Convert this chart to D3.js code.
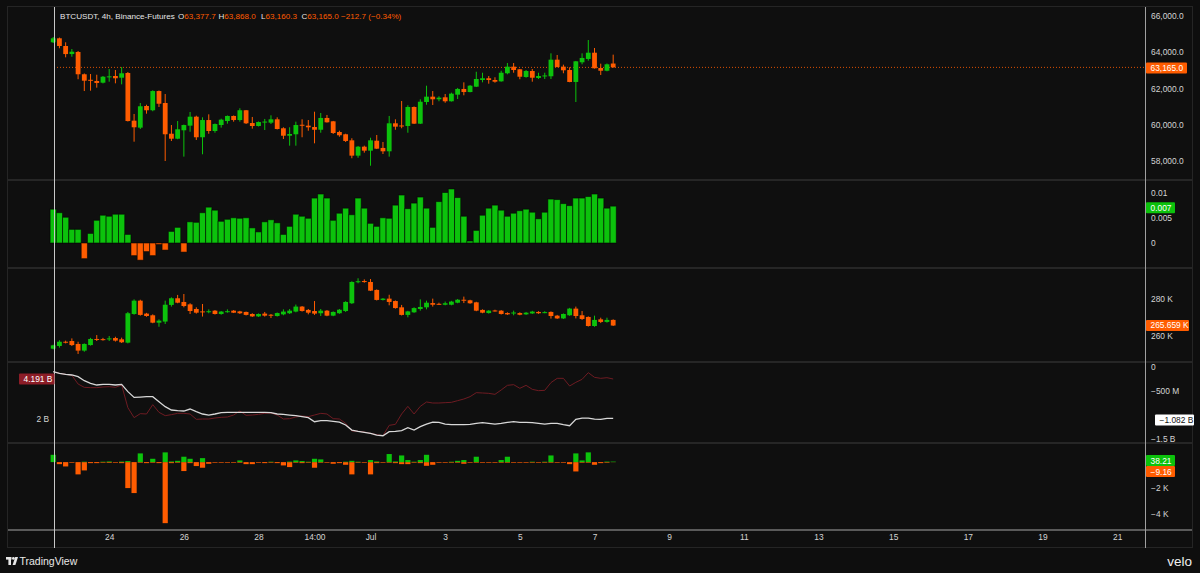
<!DOCTYPE html>
<meta charset="utf-8">
<style>
  body { margin: 0; background: #0e0e0e; }
  svg text { font-family: "Liberation Sans", Arial, sans-serif; }
</style>
<body>
<script src="https://cdn.jsdelivr.net/npm/d3@7/dist/d3.min.js"></script>
<script>
// BTCUSDT 4h candles [open, high, low, close], bar 0 = Jun 22 12:00
var priceCandles = [
  [64550,64840,64510,64770],[64770,64810,64220,64345],[64345,64550,63720,63900],[63900,64180,63755,64030],[64015,64070,62510,62785],
  [62785,62830,61860,62430],[62480,62800,61880,62450],[62415,62760,62045,62305],[62320,62690,62280,62650],[62640,63075,62375,62670],
  [62690,63020,62285,62565],[62595,63185,62230,62840],[62855,62910,60180,60205],[60225,60595,59065,59860],[59840,61200,59765,61020],
  [61035,61105,60610,60800],[60800,61900,60745,61860],[61860,61890,60980,61160],[61200,61695,58000,59475],[59505,59985,59105,59230],
  [59230,60205,59200,59750],[59695,60010,58240,59985],[59950,60705,59615,60445],[60445,60500,59160,59310],[59310,60410,58370,60260],
  [60260,60575,59505,59655],[59655,60070,59560,60040],[59985,60335,59840,60280],[60205,60510,60060,60485],[60485,60510,60170,60260],
  [60260,60910,60170,60800],[60800,60815,60040,60080],[60095,60430,59785,59930],[59930,60180,59905,60150],[60160,60320,59710,60175],
  [60115,60520,60040,60300],[60300,60410,59740,59765],[59805,59860,59215,59395],[59395,59860,58845,59490],[59475,60170,58845,59985],
  [60000,60300,59310,59980],[59950,60260,59670,59860],[59875,60720,58975,59725],[59725,60650,59560,60375],[60375,60540,60120,60135],
  [60190,60210,59490,59545],[59600,59670,59340,59420],[59475,59505,59050,59105],[59140,59255,58150,58295],[58295,58830,58180,58790],
  [58790,58845,58460,58570],[58570,59285,57740,59140],[59120,59435,58660,58680],[58720,59050,58385,58535],[58535,60485,58240,60080],
  [60080,60300,59725,59895],[59960,61310,59805,59940],[59930,61075,59560,60980],[60980,61010,60040,60060],[60060,61405,60040,61270],
  [61255,62155,61105,61550],[61550,61860,61090,61405],[61405,61570,61295,61495],[61515,61695,61215,61295],[61295,61770,61280,61715],
  [61660,62030,61420,61975],[61975,62340,61625,61805],[61805,62190,61790,62155],[62100,62925,62080,62525],[62470,62870,62340,62565],
  [62565,62690,62265,62470],[62470,62620,62320,62375],[62395,62980,62375,62870],[62840,63405,62785,63205],[63205,63405,62870,63020],
  [63060,63080,62510,62650],[62635,63020,62595,62965],[62965,63075,62375,62595],[62580,62870,62525,62690],[62700,62870,62525,62720],
  [62675,63940,62525,63590],[63590,63850,63170,63185],[63205,63315,62840,63005],[63020,63170,62345,62360],[62360,63520,61255,63500],
  [63445,63940,63335,63685],[63630,64675,63535,63975],[63975,64235,63100,63115],[63130,63370,62745,62980],[62980,63380,62950,63335],
  [63377.7,63868.0,63160.3,63165.0]
];

// second pane histogram
var fundValues = [
  0.0067,0.0060,0.0051,0.0027,0.0027,-0.0031,0.0019,0.0045,0.0055,0.0053,
  0.0057,0.0057,0.0017,-0.0025,-0.0034,-0.0017,-0.0025,-0.0003,-0.0014,0.0023,
  0.0031,-0.0018,0.0042,0.0041,0.0060,0.0071,0.0065,0.0043,0.0047,0.0050,
  0.0049,0.0050,0.0030,0.0022,0.0042,0.0046,0.0040,0.0017,0.0033,0.0057,
  0.0053,0.0049,0.0089,0.0097,0.0089,0.0045,0.0059,0.0069,0.0056,0.0089,
  0.0069,0.0039,0.0033,0.0050,0.0049,0.0075,0.0095,0.0068,0.0079,0.0091,
  0.0069,0.0031,0.0082,0.0100,0.0107,0.0090,0.0053,0.0004,0.0025,0.0055,
  0.0069,0.0075,0.0065,0.0053,0.0059,0.0064,0.0067,0.0061,0.0048,0.0061,
  0.0087,0.0086,0.0078,0.0074,0.0089,0.0089,0.0092,0.0097,0.0089,0.0069,
  0.0073
];

// open interest candles (K)
var oiCandles = [
  [253.15,255.3,252.8,254.95],[254.6,257.7,253.7,256.9],[256.9,257.5,256.0,256.5],[257.3,258.7,254.6,255.1],[255.7,256.9,250.3,252.1],
  [252.1,256.0,251.5,255.7],[255.1,259.0,254.8,258.4],[258.4,260.5,257.3,258.2],[258.3,259.0,257.5,258.1],[258.4,260.0,257.3,258.7],
  [258.9,259.6,257.0,257.5],[258.2,259.1,256.2,256.6],[256.4,273.0,256.0,272.3],[271.9,279.8,271.5,279.1],[279.1,279.6,271.0,271.4],
  [272.1,272.5,270.4,270.8],[271.2,271.7,266.9,267.2],[267.2,269.0,265.0,268.3],[267.8,279.1,266.5,276.9],[276.8,280.9,275.9,280.4],
  [280.4,282.2,277.7,278.0],[278.4,282.7,275.5,276.2],[277.1,277.7,271.9,273.5],[274.6,275.5,272.1,272.6],[273.3,277.3,270.5,273.1],
  [273.3,274.4,272.3,273.4],[273.7,274.0,271.6,271.9],[271.9,273.5,271.5,273.2],[273.2,274.4,272.6,273.4],[273.7,274.0,272.4,272.6],
  [273.3,273.6,271.9,272.3],[273.0,273.2,271.1,271.4],[271.9,272.3,270.3,270.6],[270.6,272.2,270.3,271.9],[272.1,273.0,270.5,271.0],
  [271.5,271.9,269.7,271.0],[270.8,272.7,270.5,272.4],[271.7,274.4,271.2,273.2],[272.3,274.6,271.9,273.7],[273.2,277.0,272.8,275.9],
  [275.9,276.2,273.2,273.5],[274.1,274.6,271.7,272.6],[273.5,278.9,271.4,272.1],[272.3,274.6,270.8,273.7],[273.7,274.0,270.7,271.0],
  [271.0,273.3,270.7,273.0],[272.3,274.6,272.0,274.2],[273.5,278.8,273.0,278.4],[277.7,289.6,277.3,289.2],[289.4,291.2,288.5,289.6],
  [289.7,290.6,288.8,289.5],[289.2,290.8,284.3,284.5],[284.9,285.2,279.2,279.5],[279.5,280.5,279.2,280.2],[280.2,282.3,276.6,278.4],
  [278.9,279.2,274.8,275.1],[275.5,276.8,271.1,271.4],[271.4,273.6,270.1,273.3],[272.8,275.5,272.5,275.1],[274.6,279.8,273.7,275.7],
  [275.5,279.1,274.4,278.0],[277.8,280.2,275.9,276.9],[277.4,278.0,276.8,277.3],[276.9,278.6,276.6,277.7],[276.9,279.0,276.6,278.6],
  [278.0,280.0,277.7,279.6],[279.6,281.3,277.8,279.4],[279.3,279.6,277.4,277.7],[278.2,278.5,273.4,273.7],[274.1,274.4,272.3,272.6],
  [272.4,274.0,272.1,273.7],[273.8,274.2,273.2,273.6],[273.7,274.0,271.6,271.9],[272.4,272.8,271.4,271.7],[272.5,273.7,271.2,272.7],
  [272.4,272.8,271.2,271.5],[271.7,273.0,271.4,272.6],[272.2,273.6,271.9,273.2],[273.0,273.4,272.0,272.3],[272.7,273.4,272.3,272.9],
  [273.0,273.3,269.4,270.8],[271.0,271.4,269.2,269.5],[269.5,272.2,269.2,271.9],[271.2,275.2,270.9,274.8],[274.8,275.9,269.5,270.8],
  [271.2,273.5,268.7,269.2],[270.3,270.6,265.1,265.4],[265.4,271.0,265.0,268.7],[269.0,269.9,267.0,267.6],[267.6,269.9,267.2,268.7],
  [268.7,269.0,265.4,265.659]
];

// fourth pane: white line on right scale, dark red line on left scale (billions)
var flowRight = [
  -0.098,-0.133,-0.154,-0.168,-0.204,-0.288,-0.344,-0.379,-0.365,-0.365,
  -0.379,-0.365,-0.519,-0.639,-0.632,-0.625,-0.625,-0.730,-0.835,-0.905,
  -0.919,-0.926,-0.884,-0.940,-0.989,-1.011,-0.989,-0.961,-0.954,-0.954,
  -0.954,-0.954,-0.954,-0.954,-0.954,-0.961,-0.989,-0.996,-1.011,-1.025,
  -1.046,-1.067,-1.151,-1.130,-1.130,-1.144,-1.158,-1.221,-1.326,-1.354,
  -1.375,-1.396,-1.432,-1.446,-1.361,-1.354,-1.340,-1.277,-1.326,-1.256,
  -1.200,-1.158,-1.165,-1.200,-1.214,-1.214,-1.214,-1.207,-1.186,-1.172,
  -1.186,-1.200,-1.186,-1.165,-1.151,-1.165,-1.165,-1.172,-1.186,-1.200,
  -1.186,-1.186,-1.214,-1.235,-1.102,-1.074,-1.074,-1.095,-1.102,-1.081,
  -1.082
];
var flowLeft = [
  4.600,4.507,4.451,4.395,3.912,3.726,3.708,3.708,3.745,3.764,
  3.726,3.856,2.593,2.036,2.259,2.240,2.760,2.333,2.147,2.203,
  2.277,2.277,2.240,1.943,1.961,1.961,2.017,2.054,2.073,2.184,
  2.407,2.166,2.184,2.221,2.277,2.296,2.184,1.961,1.980,2.073,
  2.128,2.091,2.184,2.277,2.240,1.980,1.961,1.720,1.292,1.274,
  1.237,1.162,1.088,1.032,1.608,1.664,2.240,2.667,2.240,2.667,
  2.909,2.853,2.853,2.872,2.890,2.983,3.076,3.206,3.429,3.411,
  3.392,3.336,3.578,3.838,3.875,3.671,3.838,3.615,3.541,3.559,
  3.990,4.228,4.228,3.801,4.005,4.172,4.544,4.284,4.228,4.265,
  4.191
];

// fifth pane (K): green up, orange down
var liqUp = [
  0.57,0,0,0,0,0.03,0,0,0.03,0.05,
  0,0.04,0.08,0,0.68,0,0.26,0,0.76,0.05,
  0.10,0.42,0.26,0,0.31,0,0,0,0,0,
  0.13,0,0,0,0,0.03,0,0,0.04,0.13,
  0.08,0.03,0.26,0.21,0,0,0,0.03,0.10,0.03,
  0,0.16,0.05,0,0.63,0.05,0.52,0.16,0.03,0.16,
  0.57,0,0,0,0.03,0.10,0.16,0,0.42,0,
  0,0,0.16,0.42,0,0,0,0.03,0,0.03,
  0.52,0,0,0,0.68,0.13,0.76,0,0,0.04,
  0.03821
];
var liqDown = [
  0,-0.16,-0.34,-0.05,-0.96,-0.65,-0.08,-0.08,-0.05,-0.06,
  -0.05,-0.08,-2.03,-2.42,-0.05,-0.08,-0.05,-0.08,-4.77,-0.08,
  -0.05,-0.70,-0.08,-0.31,-0.44,-0.13,-0.05,-0.05,-0.05,-0.05,
  -0.05,-0.16,-0.16,-0.05,-0.08,-0.05,-0.08,-0.26,-0.39,-0.05,
  -0.08,-0.05,-0.44,-0.05,-0.05,-0.13,-0.08,-0.21,-0.96,-0.05,
  -0.05,-0.96,-0.08,-0.05,-0.05,-0.08,-0.16,-0.16,-0.05,-0.08,
  -0.29,-0.21,-0.05,-0.05,-0.05,-0.05,-0.13,-0.05,-0.05,-0.05,
  -0.05,-0.05,-0.05,-0.05,-0.05,-0.05,-0.05,-0.05,-0.05,-0.05,
  -0.05,-0.05,-0.05,-0.16,-0.73,-0.05,-0.05,-0.21,-0.08,-0.05,
  -0.00916
];

var timeTicks = [9, 21, 33, 42, 51, 63, 75, 87, 99, 111, 123, 135, 147, 159, 171];
var timeLabels = ["24", "26", "28", "14:00", "Jul", "3", "5", "7", "9", "11", "13", "15", "17", "19", "21"];

var GREEN = "#0cc20c", RED = "#ff5c00", TXT = "#d4d4d4", FS = 8.4;

var svg = d3.select("body").append("svg")
    .attr("width", 1200)
    .attr("height", 573);

svg.append("rect").attr("width", 1200).attr("height", 573).attr("fill", "#0e0e0e");
svg.append("rect")
    .attr("x", 7.5).attr("y", 6.5).attr("width", 1185).attr("height", 541)
    .attr("fill", "#0f0f0f").attr("stroke", "#252525");

var x = d3.scaleLinear().domain([0, 100]).range([53.2, 675.4]);

var yPrice = d3.scaleLinear().domain([58000, 66000]).range([161, 16]);
var yFund = d3.scaleLinear().domain([0, 0.01]).range([243, 192.5]);
var yOi = d3.scaleLinear().domain([260, 280]).range([336, 299]);
var yFlowR = d3.scaleLinear().domain([-1.5, 0]).range([438.3, 367]);
var yFlowL = d3.scaleLinear().domain([2, 4.191]).range([418.3, 379]);
var yLiq = d3.scaleLinear().domain([-4, 0]).range([513.3, 462.1]);

var defs = svg.append("defs");
function pane(id, top, bottom) {
  defs.append("clipPath").attr("id", id)
    .append("rect").attr("x", 8).attr("y", top).attr("width", 1137).attr("height", bottom - top);
  return svg.append("g").attr("clip-path", "url(#" + id + ")");
}

var gPrice = pane("cp1", 8, 179),
    gFund = pane("cp2", 181, 267),
    gOi = pane("cp3", 269, 361),
    gFlow = pane("cp4", 363, 442),
    gLiq = pane("cp5", 444, 529);

function drawCandles(g, data, y) {
  var c = g.append("g").selectAll("g").data(data).enter().append("g")
      .attr("fill", function(d) { return d[3] >= d[0] ? GREEN : RED; })
      .attr("stroke", function(d) { return d[3] >= d[0] ? GREEN : RED; });
  c.append("line")
      .attr("x1", function(d, i) { return x(i); })
      .attr("x2", function(d, i) { return x(i); })
      .attr("y1", function(d) { return y(d[1]); })
      .attr("y2", function(d) { return y(d[2]); })
      .attr("stroke-width", 1);
  c.append("rect")
      .attr("stroke", "none")
      .attr("x", function(d, i) { return x(i) - 2.4; })
      .attr("width", 4.8)
      .attr("y", function(d) { return y(Math.max(d[0], d[3])); })
      .attr("height", function(d) { return Math.max(1, Math.abs(y(d[0]) - y(d[3]))); });
}

// price pane
gPrice.append("line")
    .attr("x1", 54).attr("x2", 1145)
    .attr("y1", yPrice(63165)).attr("y2", yPrice(63165))
    .attr("stroke", RED).attr("stroke-dasharray", "1,2").attr("opacity", 0.85);
drawCandles(gPrice, priceCandles, yPrice);

// histogram pane
gFund.selectAll("rect").data(fundValues).enter().append("rect")
    .attr("x", function(d, i) { return x(i) - 3.1; })
    .attr("width", 6.2)
    .attr("y", function(d) { return yFund(Math.max(0, d)); })
    .attr("height", function(d) { return Math.abs(yFund(d) - yFund(0)); })
    .attr("fill", function(d) { return d >= 0 ? GREEN : RED; })
    .attr("stroke", "rgba(0,0,0,0.55)")
    .attr("stroke-width", 1);

// open interest pane
drawCandles(gOi, oiCandles, yOi);

// two lines pane
gFlow.append("path").datum(flowLeft)
    .attr("fill", "none").attr("stroke", "#6e1b22").attr("stroke-width", 1)
    .attr("d", d3.line().x(function(d, i) { return x(i); }).y(function(d) { return yFlowL(d); }));
gFlow.append("path").datum(flowRight)
    .attr("fill", "none").attr("stroke", "#d8d8d8").attr("stroke-width", 1.3)
    .attr("d", d3.line().x(function(d, i) { return x(i); }).y(function(d) { return yFlowR(d); }));

// liquidation-style pane
gLiq.append("g").selectAll("rect").data(liqDown).enter().append("rect")
    .attr("x", function(d, i) { return x(i) - 2.6; })
    .attr("width", 5.2)
    .attr("y", yLiq(0))
    .attr("height", function(d) { return yLiq(d) - yLiq(0); })
    .attr("fill", RED);
gLiq.append("g").selectAll("rect").data(liqUp).enter().append("rect")
    .attr("x", function(d, i) { return x(i) - 2.6; })
    .attr("width", 5.2)
    .attr("y", function(d) { return yLiq(d); })
    .attr("height", function(d) { return yLiq(0) - yLiq(d); })
    .attr("fill", GREEN);

// separators
[180, 268, 362, 443].forEach(function(yy) {
  svg.append("line").attr("x1", 8).attr("x2", 1192).attr("y1", yy).attr("y2", yy)
      .attr("stroke", "#262626").attr("stroke-width", 2);
});
svg.append("line").attr("x1", 8).attr("x2", 1192).attr("y1", 530).attr("y2", 530)
    .attr("stroke", "#5a5a5a").attr("stroke-width", 2);
svg.append("line").attr("x1", 54.5).attr("x2", 54.5).attr("y1", 7).attr("y2", 548)
    .attr("stroke", "#c8c8c8").attr("stroke-width", 1);
svg.append("line").attr("x1", 1145.5).attr("x2", 1145.5).attr("y1", 7).attr("y2", 548)
    .attr("stroke", "#a0a0a0").attr("stroke-width", 1);

function rightAxis(scale, vals, fmt) {
  svg.append("g")
      .attr("transform", "translate(1145,0)")
      .call(d3.axisRight(scale).tickValues(vals).tickFormat(fmt).tickSize(0).tickPadding(6))
      .call(function(g) { g.select(".domain").remove(); })
      .attr("font-size", FS).attr("font-family", null).attr("color", TXT);
}
rightAxis(yPrice, [58000, 60000, 62000, 64000, 66000], d3.format(",.1f"));
rightAxis(yFund, [0, 0.005, 0.01], function(d) { return d === 0 ? "0" : String(d); });
rightAxis(yOi, [260, 280], function(d) { return d + " K"; });
rightAxis(yFlowR, [0, -0.5, -1.5], function(d) {
  return d === 0 ? "0" : d === -0.5 ? "\u2212500 M" : "\u2212" + Math.abs(d) + " B";
});
rightAxis(yLiq, [-2, -4], function(d) { return "\u2212" + Math.abs(d) + " K"; });

svg.append("g")
    .attr("transform", "translate(54,0)")
    .call(d3.axisLeft(yFlowL).tickValues([2]).tickFormat(function(d) { return d + " B"; }).tickSize(0).tickPadding(5))
    .call(function(g) { g.select(".domain").remove(); })
    .attr("font-size", FS).attr("font-family", null).attr("color", TXT);

svg.append("g")
    .attr("transform", "translate(0,531)")
    .call(d3.axisBottom(x).tickValues(timeTicks).tickFormat(function(d, i) { return timeLabels[i]; }).tickSize(0).tickPadding(3))
    .call(function(g) { g.select(".domain").remove(); })
    .attr("font-size", FS).attr("font-family", null).attr("color", TXT);

// value tags
function tag(x0, yc, w, label, fill, color) {
  svg.append("rect").attr("x", x0).attr("y", yc - 5.5).attr("width", w).attr("height", 11)
      .attr("rx", 1).attr("fill", fill);
  svg.append("text").attr("x", x0 + 4.5).attr("y", yc).attr("dy", "0.35em")
      .attr("font-size", FS).attr("fill", color).text(label);
}
tag(1146, yPrice(63165) + 0.5, 41, "63,165.0", RED, "#fff");
tag(1146, yFund(0.007), 29, "0.007", GREEN, "#fff");
tag(1146, yOi(265.659), 43, "265.659 K", RED, "#fff");
tag(1155, yFlowR(-1.082) + 1.5, 39, "\u22121.082 B", "#ffffff", "#131313");
tag(1146, yLiq(0.03821) - 1, 29, "38.21", GREEN, "#fff");
tag(1146, yLiq(0.03821) + 10, 29, "\u22129.16", RED, "#fff");
tag(19, yFlowL(4.191), 35.5, "4.191 B", "#8c1d27", "#fff");

// header
var head = svg.append("text").attr("x", 60).attr("y", 19).attr("font-size", 8.1).attr("fill", "#e6e6e6");
head.append("tspan").text("BTCUSDT, 4h, Binance-Futures");
[["O", "63,377.7", 178], ["H", "63,868.0", 218.5], ["L", "63,160.3", 261], ["C", "63,165.0", 301.5]].forEach(function(p) {
  head.append("tspan").attr("x", p[2]).text(p[0]);
  head.append("tspan").attr("fill", RED).text(p[1]);
});
head.append("tspan").attr("x", 341).attr("fill", RED).text("\u2212212.7 (\u22120.34%)");

// footer
var logo = svg.append("g").attr("fill", "#e8e8e8");
logo.append("rect").attr("x", 6).attr("y", 557).attr("width", 5.5).attr("height", 2.6);
logo.append("rect").attr("x", 8.4).attr("y", 557).attr("width", 2.6).attr("height", 8);
logo.append("circle").attr("cx", 13.4).attr("cy", 558.4).attr("r", 1.4);
logo.append("path").attr("d", "M15.2,557 L18,557 L15.4,565 L12.6,565 Z");
svg.append("text").attr("x", 19.5).attr("y", 565).attr("font-size", 10.5).attr("fill", "#e8e8e8").text("TradingView");
svg.append("text").attr("x", 1192).attr("y", 566).attr("text-anchor", "end")
    .attr("font-size", 13.5).attr("fill", "#f0f0f0").text("velo");
</script>
</body>
